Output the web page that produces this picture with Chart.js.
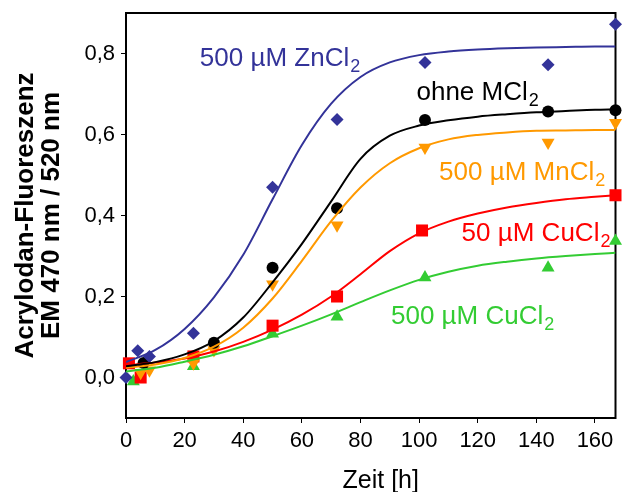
<!DOCTYPE html>
<html>
<head>
<meta charset="utf-8">
<script src="https://cdn.jsdelivr.net/npm/chart.js@4.4.1/dist/chart.umd.min.js"></script>
<style>
  html, body { margin: 0; padding: 0; background: #fff; }
  #wrap { width: 624px; height: 492px; }
</style>
</head>
<body>
<div id="wrap"><canvas id="chart" width="624" height="492"></canvas></div>
<script>
// Messpunkte: Zeit [h] und Fluoreszenz
const zincTime   = [0, 4, 8, 23, 50, 72, 102, 144, 167];
const zincValues = [0.0, 0.066, 0.052, 0.109, 0.47, 0.637, 0.778, 0.772, 0.872];

const noneTime   = [6, 30, 50, 72, 102, 144, 167];
const noneValues = [0.036, 0.086, 0.271, 0.418, 0.636, 0.657, 0.66];

const mnTime     = [5, 8, 23, 30, 50, 72, 102, 144, 167];
const mnValues   = [0.012, 0.018, 0.035, 0.068, 0.23, 0.376, 0.568, 0.58, 0.629];

const cu50Time   = [1, 5, 23, 50, 72, 101, 167];
const cu50Values = [0.035, 0.0, 0.052, 0.128, 0.2, 0.363, 0.45];

const cu500Time   = [2.5, 23, 50, 72, 102, 144, 167];
const cu500Values = [-0.01, 0.028, 0.108, 0.15, 0.247, 0.271, 0.337];

// Fitkurven, an festen Zeitpunkten
const curveTime = [0, 10, 20, 30, 40, 50, 60, 70, 80, 90, 100, 110, 120, 130, 140, 150, 160, 167];
const zincFit  = [0.038, 0.068, 0.12, 0.198, 0.303, 0.44, 0.574, 0.676, 0.742, 0.778, 0.796, 0.805, 0.81, 0.813, 0.815, 0.816, 0.817, 0.817];
const noneFit  = [0.028, 0.038, 0.057, 0.09, 0.148, 0.235, 0.33, 0.435, 0.54, 0.597, 0.622, 0.635, 0.644, 0.65, 0.655, 0.658, 0.661, 0.662];
const mnFit    = [0.024, 0.032, 0.048, 0.076, 0.123, 0.195, 0.288, 0.386, 0.469, 0.529, 0.566, 0.588, 0.599, 0.605, 0.609, 0.61, 0.611, 0.611];
const cu50Fit  = [0.03, 0.037, 0.047, 0.064, 0.088, 0.118, 0.155, 0.2, 0.255, 0.312, 0.356, 0.385, 0.405, 0.42, 0.431, 0.44, 0.446, 0.45];
const cu500Fit = [0.015, 0.024, 0.039, 0.056, 0.077, 0.102, 0.128, 0.156, 0.186, 0.215, 0.241, 0.261, 0.276, 0.286, 0.294, 0.3, 0.305, 0.308];

const seriesNames = ['500 µM ZnCl', 'ohne MCl', '500 µM MnCl', '50 µM CuCl', '500 µM CuCl'];

const xTicks = [0, 20, 40, 60, 80, 100, 120, 140, 160];
const yTicks = [0, 0.2, 0.4, 0.6, 0.8];
const xTitle = 'Zeit [h]';

const FONT = 'Arial, "Liberation Sans", sans-serif';
const BLUE = '#333399', BLACK = '#000000', ORANGE = '#ff9900', RED = '#ff0000', GREEN = '#33cc33';

const toXY = (xs, ys) => xs.map((x, i) => ({ x: x, y: ys[i] }));

function curve(values, color) {
  return {
    data: toXY(curveTime, values),
    showLine: true,
    borderColor: color,
    borderWidth: 2,
    pointRadius: 0,
    cubicInterpolationMode: 'monotone',
    fill: false
  };
}

function marks(xs, ys, color, style, radius, rotation) {
  return {
    data: toXY(xs, ys),
    showLine: false,
    pointStyle: style,
    pointRadius: radius,
    pointRotation: rotation || 0,
    pointBackgroundColor: color,
    pointBorderColor: color,
    pointBorderWidth: 0,
    clip: false
  };
}

// Beschriftungen der Kurven (Ankerpunkte in Datenkoordinaten) + x-Achsentitel
const labelPlugin = {
  id: 'curveLabels',
  afterDatasetsDraw(chart) {
    const { ctx, scales, chartArea } = chart;
    const spots = [
      { x: 25.2, y: 0.768, color: BLUE },
      { x: 99.1, y: 0.686, color: BLACK },
      { x: 106.8, y: 0.488, color: ORANGE },
      { x: 114.5, y: 0.338, color: RED },
      { x: 90.4, y: 0.132, color: GREEN }
    ];
    ctx.save();
    ctx.textBaseline = 'alphabetic';
    ctx.textAlign = 'left';
    spots.forEach((s, i) => {
      const px = scales.x.getPixelForValue(s.x);
      const py = scales.y.getPixelForValue(s.y);
      ctx.fillStyle = s.color;
      ctx.font = '26px ' + FONT;
      ctx.fillText(seriesNames[i], px, py);
      const w = ctx.measureText(seriesNames[i]).width;
      ctx.font = '18px ' + FONT;
      ctx.fillText('2', px + w + 1, py + 6);
    });

    ctx.fillStyle = '#000';
    ctx.font = '25px ' + FONT;
    ctx.textAlign = 'center';
    ctx.fillText(xTitle, (chartArea.left + chartArea.right) / 2 + 10, chartArea.bottom + 70);
    ctx.restore();
  }
};

// Rahmen um den Plotbereich
const framePlugin = {
  id: 'frame',
  beforeDatasetsDraw(chart) {
    const { ctx, chartArea: a } = chart;
    ctx.save();
    ctx.strokeStyle = '#000';
    ctx.lineWidth = 2;
    ctx.strokeRect(a.left, a.top, a.right - a.left, a.bottom - a.top);
    ctx.restore();
  }
};

new Chart(document.getElementById('chart'), {
  type: 'scatter',
  data: {
    datasets: [
      curve(zincFit, BLUE),
      curve(noneFit, BLACK),
      curve(mnFit, ORANGE),
      curve(cu50Fit, RED),
      curve(cu500Fit, GREEN),
      marks(zincTime, zincValues, BLUE, 'rectRot', 6.5),
      marks(noneTime, noneValues, BLACK, 'circle', 6),
      marks(mnTime, mnValues, ORANGE, 'triangle', 7.5, 180),
      marks(cu50Time, cu50Values, RED, 'rect', 8.5),
      marks(cu500Time, cu500Values, GREEN, 'triangle', 7.5)
    ]
  },
  options: {
    responsive: false,
    animation: false,
    layout: { padding: { top: 13, right: 7, left: 0, bottom: 0 } },
    plugins: { legend: { display: false }, tooltip: { enabled: false } },
    scales: {
      x: {
        type: 'linear',
        min: 0,
        max: 167,
        afterBuildTicks: s => { s.ticks = xTicks.map(v => ({ value: v })); },
        afterFit: s => { s.height = 74; s.paddingLeft = 0; s.paddingRight = 0; },
        grid: { display: true, drawOnChartArea: false, drawTicks: true, tickLength: 5, color: '#000', lineWidth: 1 },
        border: { display: true, color: '#000', width: 2 },
        ticks: { color: '#000', font: { family: FONT, size: 22 }, padding: 5, maxRotation: 0 },
        title: { display: false }
      },
      y: {
        type: 'linear',
        min: -0.1,
        max: 0.9,
        afterBuildTicks: s => { s.ticks = yTicks.map(v => ({ value: v })); },
        afterFit: s => { s.width = 126; s.paddingTop = 0; s.paddingBottom = 0; },
        grid: { display: true, drawOnChartArea: false, drawTicks: true, tickLength: 5, color: '#000', lineWidth: 1 },
        border: { display: true, color: '#000', width: 2 },
        ticks: {
          color: '#000',
          font: { family: FONT, size: 22 },
          padding: 6,
          callback: v => v.toFixed(1).replace('.', ',')
        },
        title: {
          display: true,
          text: ['Acrylodan-Fluoreszenz', 'EM 470 nm / 520 nm'],
          color: '#000',
          font: { family: FONT, size: 26, weight: 'bold', lineHeight: 1.0 },
          padding: { top: 13, bottom: 4 }
        }
      }
    }
  },
  plugins: [framePlugin, labelPlugin]
});
</script>
</body>
</html>
